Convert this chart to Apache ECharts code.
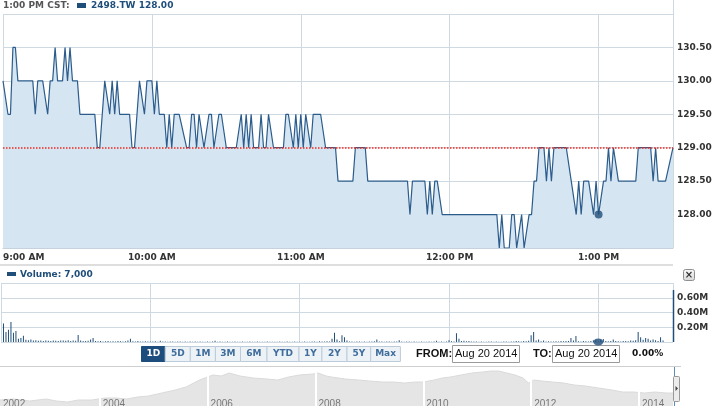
<!DOCTYPE html>
<html><head><meta charset="utf-8">
<script src="https://cdn.jsdelivr.net/npm/echarts@6/dist/echarts.min.js"></script>
<style>html,body{margin:0;padding:0;background:#fff;overflow:hidden}#c{width:716px;height:406px}</style>
</head><body><div id="c"></div>
<script>
// ---- data (minutes after 9:00 AM, price in TWD) ----
const priceMinutes = [0,2,3,4,5,6,12,13,14,16,18,19,20,21,22,24,25,26,27,28,30,31,37,38,39,40,41,43,44,45,46,47,51,52,53,55,57,58,60,61,62,63,65,66,67,68,69,71,74,75,76,77,78,79,81,83,84,85,87,88,90,94,96,97,98,99,100,101,103,104,105,106,107,109,113,114,115,117,118,119,120,121,122,124,125,128,130,134,135,141,142,146,147,163,164,165,170,171,172,173,174,175,177,199,200,201,202,204,205,206,207,209,210,212,213,214,215,216,218,219,220,221,222,227,229,231,232,233,234,236,238,239,240,242,243,244,245,246,248,255,256,261,262,263,264,267,270];
const priceValues = [130.0,129.5,129.5,130.5,130.5,130.0,130.0,129.5,130.0,130.0,129.5,130.0,130.0,130.5,130.0,130.0,130.5,130.0,130.5,130.0,130.0,129.5,129.5,129.0,129.0,129.5,130.0,129.5,130.0,129.5,130.0,129.5,129.5,129.0,129.0,130.0,129.5,130.0,130.0,129.5,130.0,129.5,129.5,129.0,129.5,129.0,129.5,129.5,129.0,129.0,129.5,129.5,129.0,129.5,129.0,129.5,129.5,129.0,129.5,129.5,129.0,129.0,129.5,129.0,129.5,129.0,129.5,129.0,129.0,129.5,129.0,129.0,129.5,129.0,129.0,129.5,129.5,129.0,129.5,129.0,129.5,129.0,129.5,129.0,129.5,129.5,129.0,129.0,128.5,128.5,129.0,129.0,128.5,128.5,128.0,128.5,128.5,128.0,128.5,128.0,128.5,128.5,128.0,128.0,127.5,128.0,127.5,127.5,128.0,128.0,127.5,128.0,127.5,128.0,128.0,128.5,128.5,129.0,129.0,128.5,129.0,128.5,129.0,129.0,128.5,128.0,128.5,128.0,128.5,128.5,128.0,128.5,128.0,128.5,128.5,129.0,128.5,129.0,128.5,128.5,129.0,129.0,128.5,129.0,128.5,128.5,129.0];
const markerMinute = 240;
const markerPrice = 128.00;
const refPrice = 129.00;
const headerTime = '1:00 PM CST:';
const ticker = '2498.TW';
const markerVolume = 7000;
const timeTicks = [0, 60, 120, 180, 240];
const timeLabels = ['9:00 AM', '10:00 AM', '11:00 AM', '12:00 PM', '1:00 PM'];
// volume per minute, thousands of shares
const volumeK = [
 0,250,135,165,270,125,150,45,55,85,
 30,25,35,20,25,18,20,15,22,18,
 15,20,18,15,22,20,18,25,15,20,
 18,95,20,15,12,18,35,55,12,10,
 15,8,10,12,8,10,8,12,10,8,
 10,20,45,10,8,12,6,8,10,6,
 8,6,10,5,18,6,8,5,6,8,
 5,6,8,5,6,4,8,5,6,5,
 6,5,4,6,5,8,18,5,6,4,
 5,6,4,5,6,4,5,8,4,5,
 6,4,5,6,4,5,4,6,5,4,
 5,4,6,5,4,8,5,4,6,5,
 4,5,6,4,5,8,6,5,10,8,
 6,10,8,45,125,35,10,90,65,20,
 8,6,5,6,8,5,6,5,8,6,
 10,35,8,6,5,8,6,5,6,8,
 25,6,5,6,8,5,6,5,4,6,
 5,4,6,5,8,18,5,6,4,8,
 25,10,8,120,45,15,18,10,12,8,
 6,8,5,6,4,5,6,8,5,6,
 5,4,6,8,5,6,8,12,10,8,
 15,10,18,90,135,20,35,10,22,8,
 10,8,6,10,8,12,10,15,12,55,
 20,80,10,8,12,10,8,12,25,35,
 7,30,40,12,10,15,35,12,10,8,
 12,15,10,20,18,25,135,65,30,55,
 45,20,35,25,15,65,20,0,0,0,
 0];
const volumeTicksM = [0.2, 0.4, 0.6];
// navigator (history overview), relative height units
const navYears = [2002.15,2002.4,2002.7,2003.0,2003.2,2003.4,2003.6,2003.85,2004.1,2004.3,2004.5,2004.7,2004.9,2005.15,2005.4,2005.6,2005.85,2006.1,2006.25,2006.4,2006.6,2006.85,2007.1,2007.3,2007.5,2007.7,2007.95,2008.05,2008.2,2008.3,2008.55,2008.8,2009.0,2009.25,2009.45,2009.65,2009.85,2010.0,2010.2,2010.35,2010.5,2010.7,2010.9,2011.1,2011.25,2011.4,2011.55,2011.7,2011.85,2011.95,2012.05,2012.2,2012.4,2012.6,2012.8,2013.0,2013.25,2013.5,2013.7,2013.9,2014.1,2014.3,2014.5,2014.63];
const navValues = [6,7,5,7,5,4,6,6,8,8,7,9,10,13,16,19,26,31,30,33,30,28,27,26,29,31,32,33,30,29,27,26,25,24,24,23,24,24,26,28,29,31,33,34,35,35,33,31,28,23,26,25,24,23,21,20,18,16,14,14,13,14,13,13];
const navYearLabels = [2002, 2004, 2006, 2008, 2010, 2012, 2014];
const rangeButtons = ['1D','5D','1M','3M','6M','YTD','1Y','2Y','5Y','Max'];
const fromDate = 'Aug 20 2014';
const toDate = 'Aug 20 2014';
const changePct = '0.00%';

// ---- chart ----
const FONT = '"DejaVu Sans", Verdana, sans-serif';
const GRID = '#cfd9e2';
const BLUE = '#1f4e79';
const RED = '#ee2a22';
const chart = echarts.init(document.getElementById('c'));

const pricePairs = priceMinutes.map((m, i) => [m, priceValues[i]]);
const volPairs = volumeK.map((v, i) => [i, v * 1000]);
const navPairs = navYears.map((y, i) => [y, navValues[i]]);

function fmtTime(v) { const k = timeTicks.indexOf(v); return k >= 0 ? timeLabels[k] : ''; }

const option = {
  animation: false,
  textStyle: { fontFamily: FONT },
  grid: [
    { left: 1, top: 14, width: 672, height: 234 },
    { left: 1, top: 283, width: 672, height: 59 },
    { left: 0, top: 368, width: 673, height: 38 }
  ],
  xAxis: [
    { gridIndex: 0, type: 'value', min: 0, max: 270, interval: 60,
      axisLine: { show: true, lineStyle: { color: '#c5d1dc' } }, axisTick: { show: false },
      splitLine: { show: true, lineStyle: { color: GRID, width: 1 } },
      axisLabel: { formatter: fmtTime, fontWeight: 'bold', fontSize: 9, color: '#333', margin: 5,
        alignMinLabel: 'left', showMaxLabel: false, fontFamily: FONT } },
    { gridIndex: 1, type: 'value', min: 0, max: 270, interval: 60,
      axisLine: { show: false }, axisTick: { show: false }, axisLabel: { show: false },
      splitLine: { show: true, lineStyle: { color: GRID, width: 1 } } },
    { gridIndex: 2, type: 'value', min: 2002.15, max: 2014.63,
      axisLine: { show: false }, axisTick: { show: false }, axisLabel: { show: false }, splitLine: { show: false } }
  ],
  yAxis: [
    { gridIndex: 0, type: 'value', position: 'right', min: 127.5, max: 131, interval: 0.5,
      axisLine: { show: false }, axisTick: { show: false },
      splitLine: { show: true, lineStyle: { color: GRID, width: 1 } },
      axisLabel: { margin: 4, fontWeight: 'bold', fontSize: 9, color: '#333', fontFamily: FONT,
        formatter: v => (v <= 127.5 || v >= 131) ? '' : v.toFixed(2) } },
    { gridIndex: 1, type: 'value', position: 'right', min: 0, max: 800000, interval: 200000,
      axisLine: { show: false }, axisTick: { show: false },
      splitLine: { show: true, lineStyle: { color: GRID, width: 1 } },
      axisLabel: { margin: 4, fontWeight: 'bold', fontSize: 9, color: '#333', fontFamily: FONT,
        formatter: v => volumeTicksM.some(t => Math.abs(t * 1e6 - v) < 1) ? (v / 1e6).toFixed(2) + 'M' : '' } },
    { gridIndex: 2, type: 'value', min: 0, max: 38, show: false }
  ],
  series: [
    // area fill (bottom layer)
    { type: 'line', xAxisIndex: 0, yAxisIndex: 0, data: pricePairs, symbol: 'none', z: 1,
      lineStyle: { width: 0, opacity: 0 },
      areaStyle: { color: '#d5e5f1', opacity: 1, origin: 'start' } },
    // reference (previous close) dotted line, between fill and price line
    { type: 'line', xAxisIndex: 0, yAxisIndex: 0, data: [], z: 2,
      markLine: { silent: true, symbol: 'none', label: { show: false },
        itemStyle: { color: RED },
        lineStyle: { color: RED, type: [1.5, 1.5], width: 1.5, opacity: 1 },
        data: [{ yAxis: refPrice, itemStyle: { color: RED }, lineStyle: { color: RED, type: [1.5, 1.5], width: 1.5 } }] } },
    // price line (top layer)
    { type: 'line', xAxisIndex: 0, yAxisIndex: 0, data: pricePairs, symbol: 'none', z: 3,
      lineStyle: { color: '#2b5c8c', width: 1.2 } },
    { type: 'scatter', xAxisIndex: 0, yAxisIndex: 0, data: [[markerMinute, markerPrice]],
      symbolSize: 8, itemStyle: { color: BLUE }, z: 5 },
    { type: 'bar', xAxisIndex: 1, yAxisIndex: 1, data: volPairs, barWidth: 1,
      itemStyle: { color: BLUE } },
    { type: 'scatter', xAxisIndex: 1, yAxisIndex: 1, data: [[markerMinute, 0]], clip: true,
      symbolSize: [10, 7], itemStyle: { color: BLUE }, z: 5 },
    { type: 'line', xAxisIndex: 2, yAxisIndex: 2, data: navPairs, symbol: 'none',
      lineStyle: { color: '#dadada', width: 1 },
      areaStyle: { color: '#e5e5e5', opacity: 1, origin: 'start' },
      markLine: { silent: true, symbol: 'none', label: { show: false },
        lineStyle: { color: '#ffffff', type: 'solid', width: 2 },
        data: navYearLabels.filter(y => y > 2002.15).map(y => ({ xAxis: y })) } }
  ]
};
chart.setOption(option);

// ---- decorations (text + controls) ----
const g = [];
g.push({ type: 'text', x: 3, y: 6, style: { text: headerTime, font: 'bold 9px ' + FONT, fill: '#555', textVerticalAlign: 'middle' } });
g.push({ type: 'rect', shape: { x: 77, y: 3, width: 9, height: 5 }, style: { fill: BLUE } });
g.push({ type: 'text', x: 91, y: 6, style: { text: ticker + ' ' + markerPrice.toFixed(2), font: 'bold 9px ' + FONT, fill: BLUE, textVerticalAlign: 'middle' } });
g.push({ type: 'line', shape: { x1: 673.5, y1: 0, x2: 673.5, y2: 248 }, style: { stroke: GRID, lineWidth: 1 } });
g.push({ type: 'text', x: 6, y: 240, style: { text: '\u00A9 2014 Yahoo! Inc.', font: '9.5px "Liberation Sans", Arial, sans-serif', fill: '#bcc9d6', textVerticalAlign: 'middle' } });
g.push({ type: 'rect', shape: { x: 0, y: 264, width: 673, height: 2 }, style: { fill: '#dedede' } });
g.push({ type: 'rect', shape: { x: 7, y: 272, width: 9, height: 4 }, style: { fill: BLUE } });
g.push({ type: 'text', x: 20, y: 274.5, style: { text: 'Volume: ' + markerVolume.toLocaleString('en-US'), font: 'bold 9px ' + FONT, fill: BLUE, textVerticalAlign: 'middle' } });
g.push({ type: 'rect', shape: { x: 683.5, y: 269.5, width: 11, height: 11, r: 2 },
  style: { fill: new echarts.graphic.LinearGradient(0, 0, 0, 1, [{ offset: 0, color: '#fafafa' }, { offset: 1, color: '#d8d8d8' }]), stroke: '#8f8f8f', lineWidth: 1 } });
g.push({ type: 'text', x: 689, y: 275, style: { text: '\u00D7', font: 'bold 10px ' + FONT, fill: '#333', textAlign: 'center', textVerticalAlign: 'middle' } });
g.push({ type: 'line', shape: { x1: 673.5, y1: 290, x2: 673.5, y2: 342 }, style: { stroke: BLUE, lineWidth: 1.5 } });
const bx = [141, 164.7, 189.8, 214.9, 240, 266.5, 298.5, 321.4, 346.5, 370.2, 399.9];
rangeButtons.forEach((t, i) => {
  const sel = i === 0;
  g.push({ type: 'rect', shape: { x: bx[i] + 0.5, y: 346.5, width: bx[i + 1] - bx[i], height: 15 },
    style: { fill: sel ? '#1d4d7c' : '#edf2f7', stroke: sel ? '#1d4d7c' : '#bccbd9', lineWidth: 1 } });
  g.push({ type: 'text', x: (bx[i] + bx[i + 1]) / 2 + 0.5, y: 354, style: { text: t, font: 'bold 9px ' + FONT, fill: sel ? '#ffffff' : '#3f6d9c', textAlign: 'center', textVerticalAlign: 'middle' } });
});
g.push({ type: 'text', x: 416, y: 354, style: { text: 'FROM:', font: 'bold 11px "Liberation Sans", Arial, sans-serif', fill: '#111', textVerticalAlign: 'middle' } });
g.push({ type: 'rect', shape: { x: 452.5, y: 345.5, width: 67, height: 17 }, style: { fill: '#fff', stroke: '#9a9a9a', lineWidth: 1 } });
g.push({ type: 'text', x: 455, y: 354, style: { text: fromDate, font: '11px "Liberation Sans", Arial, sans-serif', fill: '#111', textVerticalAlign: 'middle' } });
g.push({ type: 'text', x: 533, y: 354, style: { text: 'TO:', font: 'bold 11px "Liberation Sans", Arial, sans-serif', fill: '#111', textVerticalAlign: 'middle' } });
g.push({ type: 'rect', shape: { x: 552.5, y: 345.5, width: 67, height: 17 }, style: { fill: '#fff', stroke: '#9a9a9a', lineWidth: 1 } });
g.push({ type: 'text', x: 555, y: 354, style: { text: toDate, font: '11px "Liberation Sans", Arial, sans-serif', fill: '#111', textVerticalAlign: 'middle' } });
g.push({ type: 'text', x: 632, y: 354, style: { text: changePct, font: 'bold 9px ' + FONT, fill: '#111', textVerticalAlign: 'middle' } });
g.push({ type: 'line', shape: { x1: 0, y1: 366.5, x2: 681, y2: 366.5 }, style: { stroke: '#cfcfcf', lineWidth: 1 } });
navYearLabels.forEach(y => {
  const px = chart.convertToPixel({ xAxisIndex: 2 }, y);
  g.push({ type: 'text', x: Math.max(px + 3, 3), y: 404, z: 10, style: { text: String(y), font: '10px "Liberation Sans", Arial, sans-serif', fill: '#777', textVerticalAlign: 'middle' } });
});
g.push({ type: 'line', shape: { x1: 674.5, y1: 367, x2: 674.5, y2: 406 }, style: { stroke: '#5b8cc0', lineWidth: 1 } });
g.push({ type: 'rect', shape: { x: 673.5, y: 376.5, width: 6, height: 25, r: 1 }, style: { fill: '#ececec', stroke: '#999', lineWidth: 1 } });
g.push({ type: 'polygon', shape: { points: [[675.5, 386], [678, 388.5], [675.5, 391]] }, style: { fill: '#444' } });

chart.setOption({ graphic: g });
</script>
</body></html>
